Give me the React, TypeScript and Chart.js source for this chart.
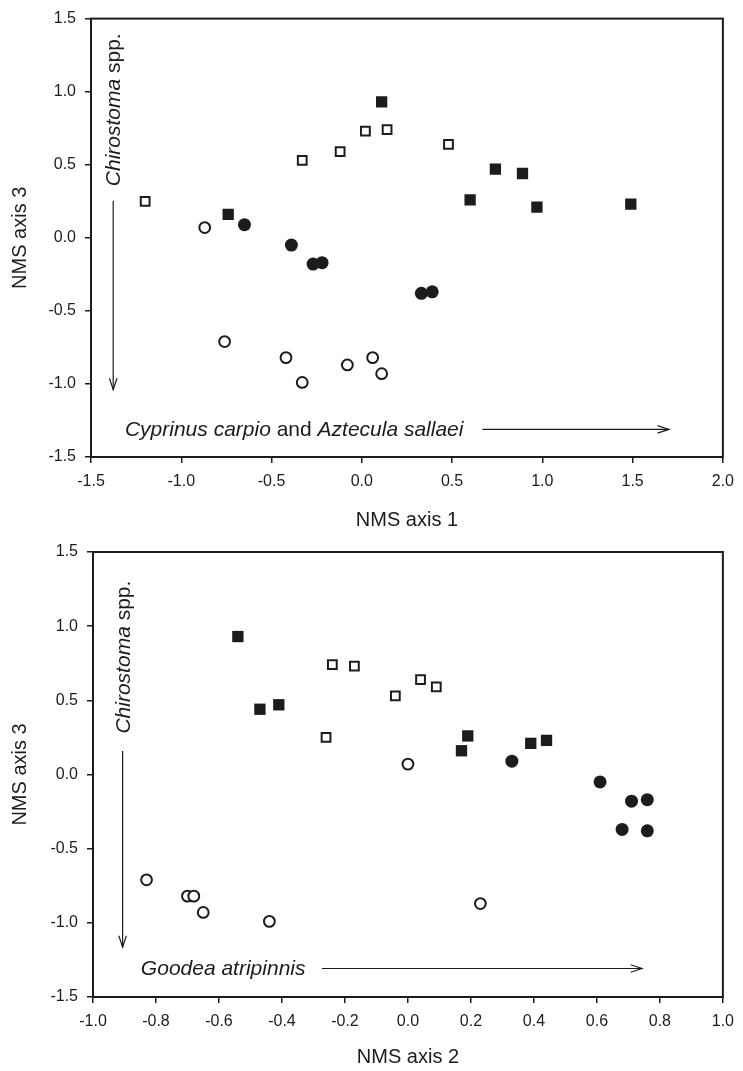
import React, { useEffect, useRef } from 'react';
import { Chart, registerables } from 'chart.js';

Chart.register(...registerables);

// ---------- data (NMS ordination scores) ----------
// open squares
const openSqAxis1 = [-1.2, -0.33, -0.12, 0.02, 0.14, 0.48];
const openSqAxis2 = [-0.26, -0.04, 0.09, -0.17, -0.24, 0.04];
const openSqAxis3 = [0.25, 0.53, 0.59, 0.73, 0.74, 0.64];
// filled squares
const fillSqAxis1 = [-0.74, 0.11, 0.6, 0.74, 0.89, 0.97, 1.49];
const fillSqAxis2 = [0.17, -0.54, 0.19, -0.41, -0.47, 0.39, 0.44];
const fillSqAxis3 = [0.16, 0.93, 0.26, 0.47, 0.44, 0.21, 0.23];
// open circles
const openCiAxis1 = [-0.87, -0.76, -0.42, 0.06, -0.33, -0.08, 0.11];
const openCiAxis2 = [0.0, -0.83, -0.7, -0.68, -0.44, 0.23, -0.65];
const openCiAxis3 = [0.07, -0.71, -0.82, -0.82, -0.99, -0.87, -0.93];
// filled circles
const fillCiAxis1 = [-0.65, -0.39, -0.27, -0.22, 0.39, 0.33];
const fillCiAxis2 = [0.33, 0.61, 0.71, 0.76, 0.68, 0.76];
const fillCiAxis3 = [0.09, -0.05, -0.18, -0.17, -0.37, -0.38];

// axis ranges / ticks
const axis1Range = { min: -1.5, max: 2.0, step: 0.5 };
const axis2Range = { min: -1.0, max: 1.0, step: 0.2 };
const axis3Range = { min: -1.5, max: 1.5, step: 0.5 };

const FONT = "'Liberation Sans', Arial, Helvetica, sans-serif";
const INK = '#1c1c1c';

type Part = { t: string; italic: boolean };
type Label = { x: number; y: number; vertical: boolean; parts: Part[] };
type Arrow = { x1: number; y1: number; x2: number; y2: number };

const topLabels: Label[] = [
  { x: -1.339, y: 0.353, vertical: true, parts: [{ t: 'Chirostoma', italic: true }, { t: ' spp.', italic: false }] },
  {
    x: -1.312,
    y: -1.356,
    vertical: false,
    parts: [
      { t: 'Cyprinus carpio', italic: true },
      { t: ' and ', italic: false },
      { t: 'Aztecula sallaei', italic: true },
    ],
  },
];
const topArrows: Arrow[] = [
  { x1: -1.377, y1: 0.254, x2: -1.377, y2: -1.039 },
  { x1: 0.668, y1: -1.311, x2: 1.701, y2: -1.311 },
];
const bottomLabels: Label[] = [
  { x: -0.881, y: 0.276, vertical: true, parts: [{ t: 'Chirostoma', italic: true }, { t: ' spp.', italic: false }] },
  { x: -0.848, y: -1.354, vertical: false, parts: [{ t: 'Goodea atripinnis', italic: true }] },
];
const bottomArrows: Arrow[] = [
  { x1: -0.906, y1: 0.159, x2: -0.906, y2: -1.164 },
  { x1: -0.273, y1: -1.308, x2: 0.7435, y2: -1.308 },
];

function makeAnnotations(labels: Label[], arrows: Arrow[]) {
  return {
    id: 'nmsAnnotations',
    beforeDatasetsDraw(chart: any) {
      const { ctx, chartArea, scales } = chart;
      const sx = scales.x;
      const sy = scales.y;
      ctx.save();
      ctx.strokeStyle = INK;
      ctx.lineWidth = 2;
      ctx.strokeRect(
        chartArea.left,
        chartArea.top,
        chartArea.right - chartArea.left,
        chartArea.bottom - chartArea.top
      );
      ctx.lineWidth = 1.2;
      for (const a of arrows) {
        const x1 = sx.getPixelForValue(a.x1);
        const y1 = sy.getPixelForValue(a.y1);
        const x2 = sx.getPixelForValue(a.x2);
        const y2 = sy.getPixelForValue(a.y2);
        ctx.beginPath();
        ctx.moveTo(x1, y1);
        ctx.lineTo(x2, y2);
        ctx.stroke();
        const ang = Math.atan2(y2 - y1, x2 - x1);
        const L = 12;
        const w = 0.32;
        ctx.beginPath();
        ctx.moveTo(x2 - L * Math.cos(ang - w), y2 - L * Math.sin(ang - w));
        ctx.lineTo(x2, y2);
        ctx.lineTo(x2 - L * Math.cos(ang + w), y2 - L * Math.sin(ang + w));
        ctx.stroke();
      }
      ctx.fillStyle = INK;
      ctx.textBaseline = 'alphabetic';
      ctx.textAlign = 'left';
      for (const lb of labels) {
        const px = sx.getPixelForValue(lb.x);
        const py = sy.getPixelForValue(lb.y);
        ctx.save();
        ctx.translate(px, py);
        if (lb.vertical) ctx.rotate(-Math.PI / 2);
        let cx = 0;
        for (const p of lb.parts) {
          ctx.font = `${p.italic ? 'italic ' : ''}21px ${FONT}`;
          ctx.fillText(p.t, cx, 0);
          cx += ctx.measureText(p.t).width;
        }
        ctx.restore();
      }
      ctx.restore();
    },
  };
}

const zip = (xs: number[], ys: number[]) => xs.map((x, i) => ({ x, y: ys[i] }));

const fmt = (v: any) => {
  const n = Number(v);
  return (Math.abs(n) < 1e-9 ? 0 : n).toFixed(1);
};

function buildConfig(opts: {
  xs: [number[], number[], number[], number[]];
  xRange: { min: number; max: number; step: number };
  xTitle: string;
  padding: { left: number; right: number; top: number; bottom: number };
  yWidth: number;
  xHeight: number;
  xTitlePadBottom: number;
  labels: Label[];
  arrows: Arrow[];
}): any {
  const tickFont = { family: FONT, size: 16 };
  const titleFont = { family: FONT, size: 20 };
  const grid = { drawOnChartArea: false, drawTicks: true, tickLength: 6, color: INK, lineWidth: 1.5 };
  return {
    type: 'scatter',
    data: {
      datasets: [
        {
          label: 'open squares',
          data: zip(opts.xs[0], openSqAxis3),
          pointStyle: 'rect',
          pointRadius: 6.2,
          borderWidth: 2,
          borderColor: INK,
          backgroundColor: '#ffffff',
        },
        {
          label: 'filled squares',
          data: zip(opts.xs[1], fillSqAxis3),
          pointStyle: 'rect',
          pointRadius: 8,
          borderWidth: 0,
          borderColor: INK,
          backgroundColor: INK,
        },
        {
          label: 'open circles',
          data: zip(opts.xs[2], openCiAxis3),
          pointStyle: 'circle',
          pointRadius: 5.4,
          borderWidth: 2,
          borderColor: INK,
          backgroundColor: '#ffffff',
        },
        {
          label: 'filled circles',
          data: zip(opts.xs[3], fillCiAxis3),
          pointStyle: 'circle',
          pointRadius: 6.5,
          borderWidth: 0,
          borderColor: INK,
          backgroundColor: INK,
        },
      ],
    },
    options: {
      responsive: false,
      animation: false,
      devicePixelRatio: 1,
      layout: { padding: opts.padding },
      plugins: { legend: { display: false }, tooltip: { enabled: false } },
      scales: {
        x: {
          type: 'linear',
          min: opts.xRange.min,
          max: opts.xRange.max,
          ticks: {
            stepSize: opts.xRange.step,
            callback: fmt,
            font: tickFont,
            color: INK,
            padding: 9,
            maxRotation: 0,
            autoSkip: false,
          },
          grid,
          border: { display: false },
          title: {
            display: true,
            text: opts.xTitle,
            font: titleFont,
            color: INK,
            padding: { top: 0, bottom: opts.xTitlePadBottom },
          },
          afterFit: (s: any) => {
            s.height = opts.xHeight;
          },
        },
        y: {
          type: 'linear',
          min: axis3Range.min,
          max: axis3Range.max,
          ticks: {
            stepSize: axis3Range.step,
            callback: fmt,
            font: tickFont,
            color: INK,
            padding: 9,
            autoSkip: false,
          },
          grid,
          border: { display: false },
          title: {
            display: true,
            text: 'NMS axis 3',
            font: titleFont,
            color: INK,
            padding: { top: 8, bottom: 0 },
          },
          afterFit: (s: any) => {
            s.width = opts.yWidth;
          },
        },
      },
    },
    plugins: [makeAnnotations(opts.labels, opts.arrows)],
  };
}

export default function App() {
  const topRef = useRef<HTMLCanvasElement | null>(null);
  const botRef = useRef<HTMLCanvasElement | null>(null);

  useEffect(() => {
    if (!topRef.current || !botRef.current) return;
    const top = new Chart(
      topRef.current,
      buildConfig({
        xs: [openSqAxis1, fillSqAxis1, openCiAxis1, fillCiAxis1],
        xRange: axis1Range,
        xTitle: 'NMS axis 1',
        padding: { left: 0, right: 17, top: 13, bottom: 0 },
        yWidth: 91,
        xHeight: 75,
        xTitlePadBottom: 0,
        labels: topLabels,
        arrows: topArrows,
      })
    );
    const bottom = new Chart(
      botRef.current,
      buildConfig({
        xs: [openSqAxis2, fillSqAxis2, openCiAxis2, fillCiAxis2],
        xRange: axis2Range,
        xTitle: 'NMS axis 2',
        padding: { left: 0, right: 14, top: 20, bottom: 0 },
        yWidth: 93,
        xHeight: 74,
        xTitlePadBottom: 2,
        labels: bottomLabels,
        arrows: bottomArrows,
      })
    );
    return () => {
      top.destroy();
      bottom.destroy();
    };
  }, []);

  return (
    <div style={{ position: 'absolute', left: 0, top: 0, width: 743, height: 1071, background: '#ffffff' }}>
      <canvas
        ref={topRef}
        width={743}
        height={532}
        style={{ position: 'absolute', left: 0, top: 0, width: 743, height: 532, display: 'block' }}
      />
      <canvas
        ref={botRef}
        width={743}
        height={539}
        style={{ position: 'absolute', left: 0, top: 532, width: 743, height: 539, display: 'block' }}
      />
    </div>
  );
}
